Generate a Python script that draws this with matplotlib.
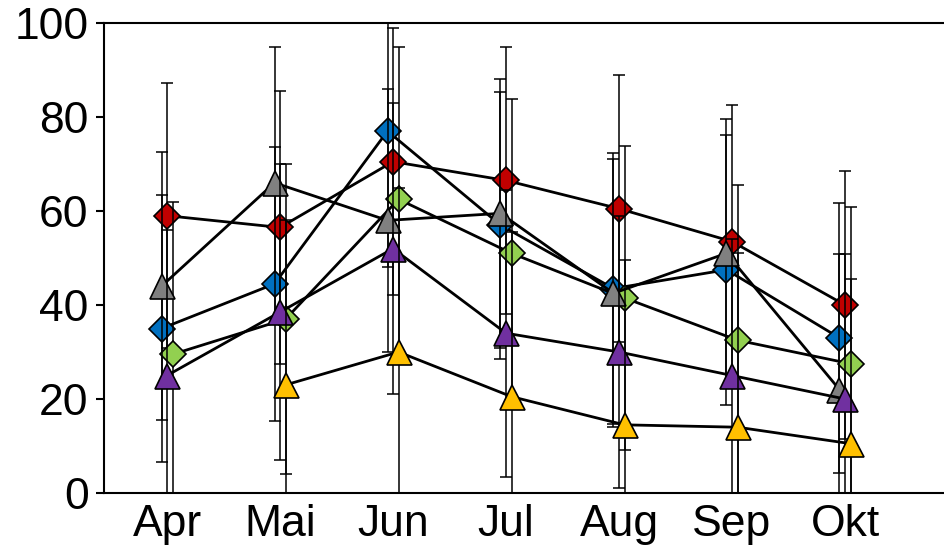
import numpy as np
import matplotlib
matplotlib.use("Agg")
import matplotlib.pyplot as plt

plt.rcParams['font.family'] = ['Liberation Sans', 'DejaVu Sans']

months = ["Apr", "Mai", "Jun", "Jul", "Aug", "Sep", "Okt"]

red_vals    = [59.0, 56.5, 70.5, 66.5, 60.5, 53.5, 40.0]
blue_vals   = [35.0, 44.5, 77.0, 57.0, 43.5, 47.5, 33.0]
green_vals  = [29.5, 37.0, 62.5, 51.0, 41.5, 32.5, 27.5]
gray_vals   = [44.0, 66.0, 58.0, 59.5, 42.5, 51.0, 22.0]
purple_vals = [25.0, 38.5, 52.0, 34.0, 30.0, 25.0, 20.0]
yellow_vals = [np.nan, 23.0, 30.0, 20.5, 14.5, 14.0, 10.5]

red_err    = [28.2, 29.0, 28.4, 28.5, 28.4, 29.0, 28.6]
blue_err   = [28.5, 29.2, 29.0, 28.4, 28.9, 28.7, 28.8]
green_err  = [32.5, 33.0, 32.5, 32.8, 32.4, 33.0, 33.3]
gray_err   = [28.5, 28.8, 28.0, 28.6, 28.5, 28.6, 28.9]
purple_err = [31.0, 31.5, 31.0, 30.5, 29.0, 29.0, 30.9]
yellow_err = [np.nan, 35.0, 35.0, 35.0, 35.0, 37.0, 35.0]

series = [
    ("blue",   blue_vals,   blue_err,   "#0070C0", "D", -1),
    ("red",    red_vals,    red_err,    "#C00000", "D", 0),
    ("green",  green_vals,  green_err,  "#92D050", "D", 1),
    ("gray",   gray_vals,   gray_err,   "#808080", "^", -1),
    ("purple", purple_vals, purple_err, "#7030A0", "^", 0),
    ("yellow", yellow_vals, yellow_err, "#FFC000", "^", 1),
]

fig = plt.figure(figsize=(9.44, 5.57), dpi=100)
ax = fig.add_axes([104/944, 64/557, 1 - 104/944, 470/557])

x = np.arange(1, len(months) + 1)
dx = 0.049
for i, (name, vals, err, col, mk, off) in enumerate(series):
    xs = x + off * dx
    vals = np.array(vals, dtype=float)
    err = np.array(err, dtype=float)
    z = 3 + i
    ax.errorbar(xs, vals, yerr=err, fmt='none', ecolor='black',
                elinewidth=1.1, capsize=4.5, capthick=1.1, zorder=z)
    ax.plot(xs, vals, color='black', lw=2.0, zorder=z + 0.2)
    ms = 13.5 if mk == "D" else 18
    ax.plot(xs, vals, linestyle='none', marker=mk, markersize=ms,
            markerfacecolor=col, markeredgecolor='black',
            markeredgewidth=1.2, zorder=z + 0.4)

ax.set_xlim(0.442, 7.876)
ax.set_ylim(0, 100)
ax.set_yticks([0, 20, 40, 60, 80, 100])
ax.set_xticks(x)
ax.set_xticklabels(months)
ax.tick_params(axis='y', direction='out', length=6, width=1.5, labelsize=32, pad=5)
ax.tick_params(axis='x', length=0, labelsize=32, pad=8)
ax.spines['right'].set_visible(False)
for s in ['left', 'bottom', 'top']:
    ax.spines[s].set_linewidth(1.5)

fig.savefig("out.png", dpi=100)
